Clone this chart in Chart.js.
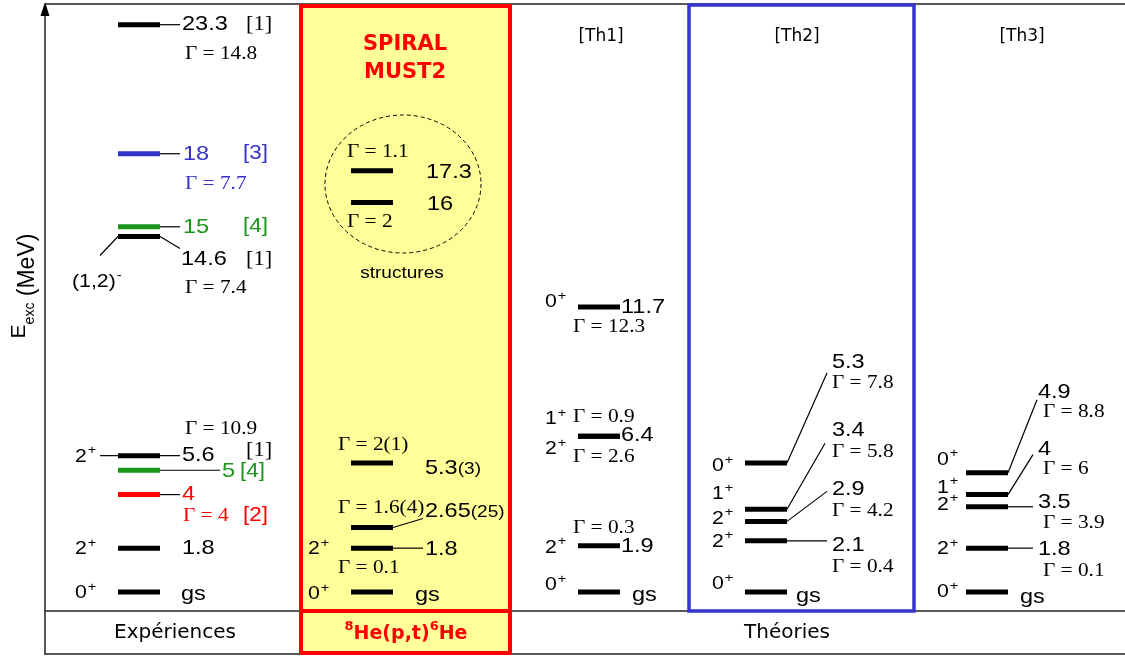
<!DOCTYPE html>
<html>
<head>
<meta charset="utf-8">
<script src="https://cdn.jsdelivr.net/npm/chart.js@4.4.1/dist/chart.umd.min.js"></script>
<style>
  html, body { margin: 0; padding: 0; background: #fff; overflow: hidden; }
  #wrap { width: 1125px; height: 657px; position: relative; }
</style>
</head>
<body>
<div id="wrap"><canvas id="levels"></canvas></div>
<script>
// 6He level scheme, energies in MeV

// Expériences
const expEnergy = [0, 1.8, 4, 5, 5.6, 14.6, 15, 18, 23.3];
const expSpin   = ['0+', '2+', '', '', '2+', '(1,2)-', '', '', ''];
const expGamma  = ['', '', '4', '', '10.9', '7.4', '', '7.7', '14.8'];
const expRef    = ['', '', '[2]', '[4]', '[1]', '[1]', '[4]', '[3]', '[1]'];

// SPIRAL / MUST2, 8He(p,t)6He
const spiralEnergy = [0, 1.8, 2.65, 5.3, 16, 17.3];
const spiralError  = ['', '', '(25)', '(3)', '', ''];
const spiralSpin   = ['0+', '2+', '', '', '', ''];
const spiralGamma  = ['', '0.1', '1.6(4)', '2(1)', '2', '1.1'];

// Théories
const th1Energy = [0, 1.9, 6.4, 6.4, 11.7];
const th1Spin   = ['0+', '2+', '2+', '1+', '0+'];
const th1Gamma  = ['', '0.3', '2.6', '0.9', '12.3'];

const th2Energy = [0, 2.1, 2.9, 3.4, 5.3];
const th2Spin   = ['0+', '2+', '2+', '1+', '0+'];
const th2Gamma  = ['', '0.4', '4.2', '5.8', '7.8'];

const th3Energy = [0, 1.8, 3.5, 4, 4.9];
const th3Spin   = ['0+', '2+', '2+', '1+', '0+'];
const th3Gamma  = ['', '0.1', '3.9', '6', '8.8'];

const theoryHeads = ['[Th1]', '[Th2]', '[Th3]'];
const groupLabels = ['Expériences', 'Théories'];

// ---- styles / layout ----
const SANS = '"Liberation Sans", Arial, sans-serif';
const SERIF = '"Liberation Serif", "Times New Roman", serif';
const COMIC = '"DejaVu Sans", sans-serif';
const RED = '#ff0000', BLUE = '#3333cc', GREEN = '#1a961a';
const refColor = { '': '#000', '[1]': '#000', '[2]': RED, '[3]': BLUE, '[4]': GREEN };

// label placement, pixel offsets from each level line
const columns = [
  { energy: expEnergy, spin: expSpin, gamma: expGamma, ref: expRef, bar: [118, 160], layout: [
    { vx: 181, vdy: 2, sx: 75, sdy: 1 },
    { vx: 182, vdy: 0, sx: 75, sdy: 1 },
    { cx: 180, cdy: 0, vx: 182, vdy: 0, gx: 183, gdy: 21, rx: 243, rdy: 21 },
    { cx: 220, cdy: 0, vx: 222, vdy: 1, rx: 240, rdy: 1 },
    { lx: 100, ldy: 0, sx: 75, sdy: 1, cx: 180, cdy: 0, vx: 182, vdy: 0, gx: 185, gdy: -27, rx: 246, rdy: -5 },
    { lx: 100, ldy: 19, sx: 72, sdy: 45, cx: 180, cdy: 12, vx: 181, vdy: 23, gx: 185, gdy: 52, rx: 246, rdy: 23 },
    { cx: 180, cdy: 0, vx: 183, vdy: 0, rx: 243, rdy: 0 },
    { cx: 180, cdy: 0, vx: 183, vdy: 0, gx: 185, gdy: 30, rx: 243, rdy: 0 },
    { cx: 180, cdy: 0, vx: 182, vdy: 0, gx: 185, gdy: 29, rx: 246, rdy: 0 }
  ]},
  { energy: spiralEnergy, spin: spiralSpin, gamma: spiralGamma, err: spiralError, bar: [351, 393], layout: [
    { vx: 415, vdy: 3, sx: 308, sdy: 2 },
    { cx: 423, cdy: 0, vx: 425, vdy: 1, sx: 308, sdy: 1, gx: 338, gdy: 20 },
    { cx: 423, cdy: -9, vx: 425, vdy: -16, gx: 338, gdy: -19 },
    { vx: 425, vdy: 5, gx: 338, gdy: -18 },
    { vx: 427, vdy: 2, gx: 347, gdy: 20 },
    { vx: 426, vdy: 1, gx: 347, gdy: -19 }
  ]},
  { energy: th1Energy, spin: th1Spin, gamma: th1Gamma, bar: [578, 620], layout: [
    { vx: 632, vdy: 3, sx: 545, sdy: -7 },
    { vx: 621, vdy: 0, sx: 545, sdy: 2, gx: 573, gdy: -18 },
    { vx: 621, vdy: -1, sx: 545, sdy: 13, gx: 573, gdy: 21 },
    { sx: 545, sdy: -17, gx: 573, gdy: -19 },
    { vx: 621, vdy: 0, sx: 545, sdy: -5, gx: 573, gdy: 20 }
  ]},
  { energy: th2Energy, spin: th2Spin, gamma: th2Gamma, bar: [745, 787], layout: [
    { vx: 796, vdy: 4, sx: 712, sdy: -8 },
    { cx: 827, cdy: 0, vx: 832, vdy: 4, gx: 832, gdy: 26, sx: 712, sdy: 1 },
    { cx: 827, cdy: -30, vx: 832, vdy: -32, gx: 832, gdy: -10, sx: 712, sdy: -3 },
    { cx: 825, cdy: -66, vx: 832, vdy: -79, gx: 832, gdy: -57, sx: 712, sdy: -15 },
    { cx: 827, cdy: -90, vx: 832, vdy: -101, gx: 832, gdy: -80, sx: 712, sdy: 3 }
  ]},
  { energy: th3Energy, spin: th3Spin, gamma: th3Gamma, bar: [966, 1008], layout: [
    { vx: 1020, vdy: 5, sx: 937, sdy: 0 },
    { cx: 1033, cdy: 0, vx: 1038, vdy: 1, gx: 1043, gdy: 23, sx: 937, sdy: 1 },
    { cx: 1033, cdy: 0, vx: 1038, vdy: -5, gx: 1043, gdy: 16, sx: 937, sdy: -2 },
    { cx: 1033, cdy: -40, vx: 1038, vdy: -45, gx: 1043, gdy: -26, sx: 937, sdy: -7 },
    { cx: 1037, cdy: -73, vx: 1038, vdy: -80, gx: 1043, gdy: -61, sx: 937, sdy: -13 }
  ]}
];

function text(ctx, s, x, y, font, color, align) {
  ctx.save();
  ctx.font = font;
  ctx.fillStyle = color || '#000';
  ctx.textBaseline = 'middle';
  ctx.textAlign = align || 'left';
  ctx.translate(x, y);
  ctx.scale(1.12, 1);
  ctx.fillText(s, 0, 0);
  const w = ctx.measureText(s).width * 1.12;
  ctx.restore();
  return w;
}

function line(ctx, x0, y0, x1, y1) {
  ctx.beginPath();
  ctx.moveTo(x0, y0);
  ctx.lineTo(x1, y1);
  ctx.stroke();
}

function spin(ctx, s, x, y) {
  // "2+" -> 2 with a raised +
  const w = text(ctx, s.slice(0, -1), x, y, '19px ' + SANS, '#000');
  text(ctx, s.slice(-1), x + w + 1, y - 6, '13px ' + SANS, '#000');
}

function drawColumn(ctx, ys, col) {
  col.energy.forEach((e, i) => {
    const L = col.layout[i];
    const y = ys.getPixelForValue(e);
    const ref = col.ref ? col.ref[i] : '';
    const color = refColor[ref];
    ctx.strokeStyle = '#000';
    ctx.lineWidth = 1.2;
    if (L.cx) line(ctx, col.bar[1], y, L.cx, y + L.cdy);
    if (L.lx) line(ctx, col.bar[0], y, L.lx, y + L.ldy);
    if (L.vx) {
      const w = text(ctx, e === 0 ? 'gs' : String(e), L.vx, y + L.vdy, '21px ' + SANS, color);
      const err = col.err ? col.err[i] : '';
      if (err) text(ctx, err, L.vx + w, y + L.vdy + 1, '17px ' + SANS, color);
    }
    if (col.gamma[i]) text(ctx, 'Γ = ' + col.gamma[i], L.gx, y + L.gdy, '19px ' + SERIF, color);
    if (ref) text(ctx, ref, L.rx, y + L.rdy, '20px ' + (ref === '[1]' ? SERIF : SANS), color);
    if (col.spin[i]) spin(ctx, col.spin[i], L.sx, y + L.sdy);
  });
}

const datasets = [];
columns.forEach(col => {
  col.energy.forEach((e, i) => {
    datasets.push({
      data: [{ x: col.bar[0], y: e }, { x: col.bar[1], y: e }],
      showLine: true,
      borderColor: refColor[col.ref ? col.ref[i] : ''],
      borderWidth: 5,
      borderCapStyle: 'butt',
      pointRadius: 0
    });
  });
});

const decor = {
  id: 'decor',
  beforeDatasetsDraw(chart) {
    const ctx = chart.ctx;
    ctx.save();
    ctx.fillStyle = '#ffff99';
    ctx.fillRect(301, 6, 209, 647);
    ctx.restore();
  },
  afterDraw(chart) {
    const ctx = chart.ctx;
    const ys = chart.scales.y;
    ctx.save();

    // frame
    ctx.strokeStyle = '#222';
    ctx.lineWidth = 1.5;
    line(ctx, 45, 4, 1125, 4);
    line(ctx, 45, 611, 1125, 611);
    line(ctx, 45, 654, 1125, 654);
    line(ctx, 45, 14, 45, 655);
    ctx.fillStyle = '#000';
    ctx.beginPath();
    ctx.moveTo(45, 2);
    ctx.lineTo(40.5, 16);
    ctx.lineTo(49.5, 16);
    ctx.closePath();
    ctx.fill();

    // y title E_exc (MeV)
    ctx.save();
    ctx.translate(34, 286);
    ctx.rotate(-Math.PI / 2);
    ctx.fillStyle = '#000';
    ctx.textBaseline = 'alphabetic';
    ctx.font = '21px ' + SANS;
    const wE = ctx.measureText('E').width;
    ctx.font = '14px ' + SANS;
    const wS = ctx.measureText('exc').width;
    ctx.font = '23px ' + SANS;
    const wM = ctx.measureText(' (MeV)').width;
    let x = -(wE + wS + wM) / 2;
    ctx.font = '21px ' + SANS;
    ctx.fillText('E', x, -9);
    x += wE;
    ctx.font = '14px ' + SANS;
    ctx.fillText('exc', x, 0);
    x += wS;
    ctx.font = '23px ' + SANS;
    ctx.fillText(' (MeV)', x, 0);
    ctx.restore();

    // SPIRAL box
    ctx.strokeStyle = RED;
    ctx.lineWidth = 4;
    ctx.strokeRect(301, 6, 209, 647);
    line(ctx, 301, 611, 510, 611);
    // Th2 box
    ctx.strokeStyle = '#3535d0';
    ctx.lineWidth = 3.5;
    ctx.strokeRect(689, 5, 225, 606);

    // SPIRAL titles
    ctx.fillStyle = RED;
    ctx.font = 'bold 21px ' + COMIC;
    ctx.textAlign = 'center';
    ctx.textBaseline = 'middle';
    ctx.fillText('SPIRAL', 405, 45);
    ctx.fillText('MUST2', 405, 73);

    // structures circle
    ctx.strokeStyle = '#000';
    ctx.lineWidth = 1;
    ctx.setLineDash([4, 3]);
    ctx.beginPath();
    ctx.ellipse(403, 184, 78, 69, 0, 0, Math.PI * 2);
    ctx.stroke();
    ctx.setLineDash([]);
    text(ctx, 'structures', 402, 273, '17px ' + SANS, '#000', 'center');

    // theory headers
    [601, 797, 1022].forEach((cx, i) => {
      ctx.font = '17px ' + COMIC;
      ctx.fillStyle = '#000';
      ctx.fillText(theoryHeads[i], cx, 37);
    });

    // bottom row
    ctx.font = '20px ' + COMIC;
    ctx.fillStyle = '#000';
    ctx.fillText(groupLabels[0], 175, 633);
    ctx.fillText(groupLabels[1], 787, 633);

    // 8He(p,t)6He
    ctx.textAlign = 'left';
    ctx.fillStyle = RED;
    const parts = [['8', true], ['He(p,t)', false], ['6', true], ['He', false]];
    let tw = 0;
    parts.forEach(p => {
      ctx.font = (p[1] ? 'bold 13px ' : 'bold 19px ') + COMIC;
      tw += ctx.measureText(p[0]).width;
    });
    let px = 406 - tw / 2;
    parts.forEach(p => {
      ctx.font = (p[1] ? 'bold 13px ' : 'bold 19px ') + COMIC;
      ctx.fillText(p[0], px, p[1] ? 627 : 634);
      px += ctx.measureText(p[0]).width;
    });

    // level labels
    columns.forEach(col => drawColumn(ctx, ys, col));
    ctx.restore();
  }
};

new Chart(document.getElementById('levels'), {
  type: 'scatter',
  data: { datasets: datasets },
  options: {
    responsive: true,
    maintainAspectRatio: false,
    animation: false,
    layout: { padding: { left: 45, top: 4, right: 0, bottom: 47 } },
    plugins: { legend: { display: false }, tooltip: { enabled: false } },
    scales: {
      x: { type: 'linear', min: 45, max: 1125, display: false },
      y: { type: 'linear', min: -0.74, max: 24.15, display: false }
    }
  },
  plugins: [decor]
});
</script>
</body>
</html>
